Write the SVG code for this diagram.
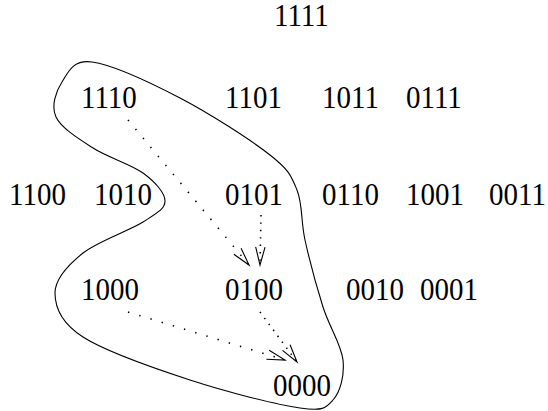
<svg xmlns="http://www.w3.org/2000/svg" width="548" height="411" viewBox="0 0 548 411">
<style>
  text { font-family: "Liberation Serif", "Times New Roman", serif; font-size: 29px; fill: #000; }
  .blob { fill: none; stroke: #000; stroke-width: 1.1; }
  .dot { fill: none; stroke: #000; stroke-width: 1.6; stroke-dasharray: 1.4 10.3; }
  .dotv { fill: none; stroke: #000; stroke-width: 1.6; stroke-dasharray: 1.4 6; }
</style>
<defs>
  <marker id="v" markerUnits="userSpaceOnUse" markerWidth="24" markerHeight="14" refX="0" refY="0" viewBox="-20 -7 24 14" orient="auto" overflow="visible">
    <path d="M-18,-4.7 L0,0 L-18,4.7" fill="none" stroke="#000" stroke-width="1.1"/>
  </marker>
</defs>
<g id="region">
  <path class="blob" d="M92,62 C111.7,64.7 150.3,82.5 180,98 C209.7,113.5 250.5,139.7 270,155 C289.5,170.3 291.2,175.8 297,190 C302.8,204.2 300.7,220.5 305,240 C309.3,259.5 316.7,287 323,307 C329.3,327 341.3,344.5 343,360 C344.7,375.5 340.2,392 333,400 C325.8,408 323.8,411.3 300,408 C276.2,404.7 226.2,391.8 190,380 C153.8,368.2 105.5,351.5 83,337 C60.5,322.5 55,307 55,293 C55,279 68.3,264.8 83,253 C97.7,241.2 129.3,230.7 143,222 C156.7,213.3 165,209.2 165,201 C165,192.8 155,181.8 143,173 C131,164.2 107.5,157.3 93,148 C78.5,138.7 61.2,128 56,117 C50.8,106 56,91.2 62,82 C68,72.8 72.3,59.3 92,62 Z"/>
</g>
<g id="connectors">
  <line class="dot" x1="128" y1="120" x2="249" y2="265" marker-end="url(#v)"/>
  <line class="dotv" x1="261" y1="215" x2="260" y2="265" marker-end="url(#v)"/>
  <line class="dot" x1="128" y1="312" x2="285" y2="360" marker-end="url(#v)"/>
  <line class="dotv" x1="260" y1="312" x2="297" y2="362" marker-end="url(#v)"/>
</g>
<g id="n1111"><text transform="translate(274,26) scale(1,1.1)">1111</text></g>
<g id="n1110"><text transform="translate(81,108) scale(1,1.1)">1110</text></g>
<g id="n1101"><text transform="translate(225,108) scale(1,1.1)">1101</text></g>
<g id="n1011"><text transform="translate(322,108) scale(1,1.1)">1011</text></g>
<g id="n0111"><text transform="translate(406,108) scale(1,1.1)">0111</text></g>
<g id="n1100"><text transform="translate(9,205) scale(1,1.1)">1100</text></g>
<g id="n1010"><text transform="translate(94,205) scale(1,1.1)">1010</text></g>
<g id="n0101"><text transform="translate(225,205) scale(1,1.1)">0101</text></g>
<g id="n0110"><text transform="translate(322,205) scale(1,1.1)">0110</text></g>
<g id="n1001"><text transform="translate(406,205) scale(1,1.1)">1001</text></g>
<g id="n0011"><text transform="translate(489,205) scale(1,1.1)">0011</text></g>
<g id="n1000"><text transform="translate(81,300) scale(1,1.1)">1000</text></g>
<g id="n0100"><text transform="translate(225,300) scale(1,1.1)">0100</text></g>
<g id="n0010"><text transform="translate(346,300) scale(1,1.1)">0010</text></g>
<g id="n0001"><text transform="translate(420,300) scale(1,1.1)">0001</text></g>
<g id="n0000"><text transform="translate(273,396) scale(1,1.1)">0000</text></g>
</svg>
